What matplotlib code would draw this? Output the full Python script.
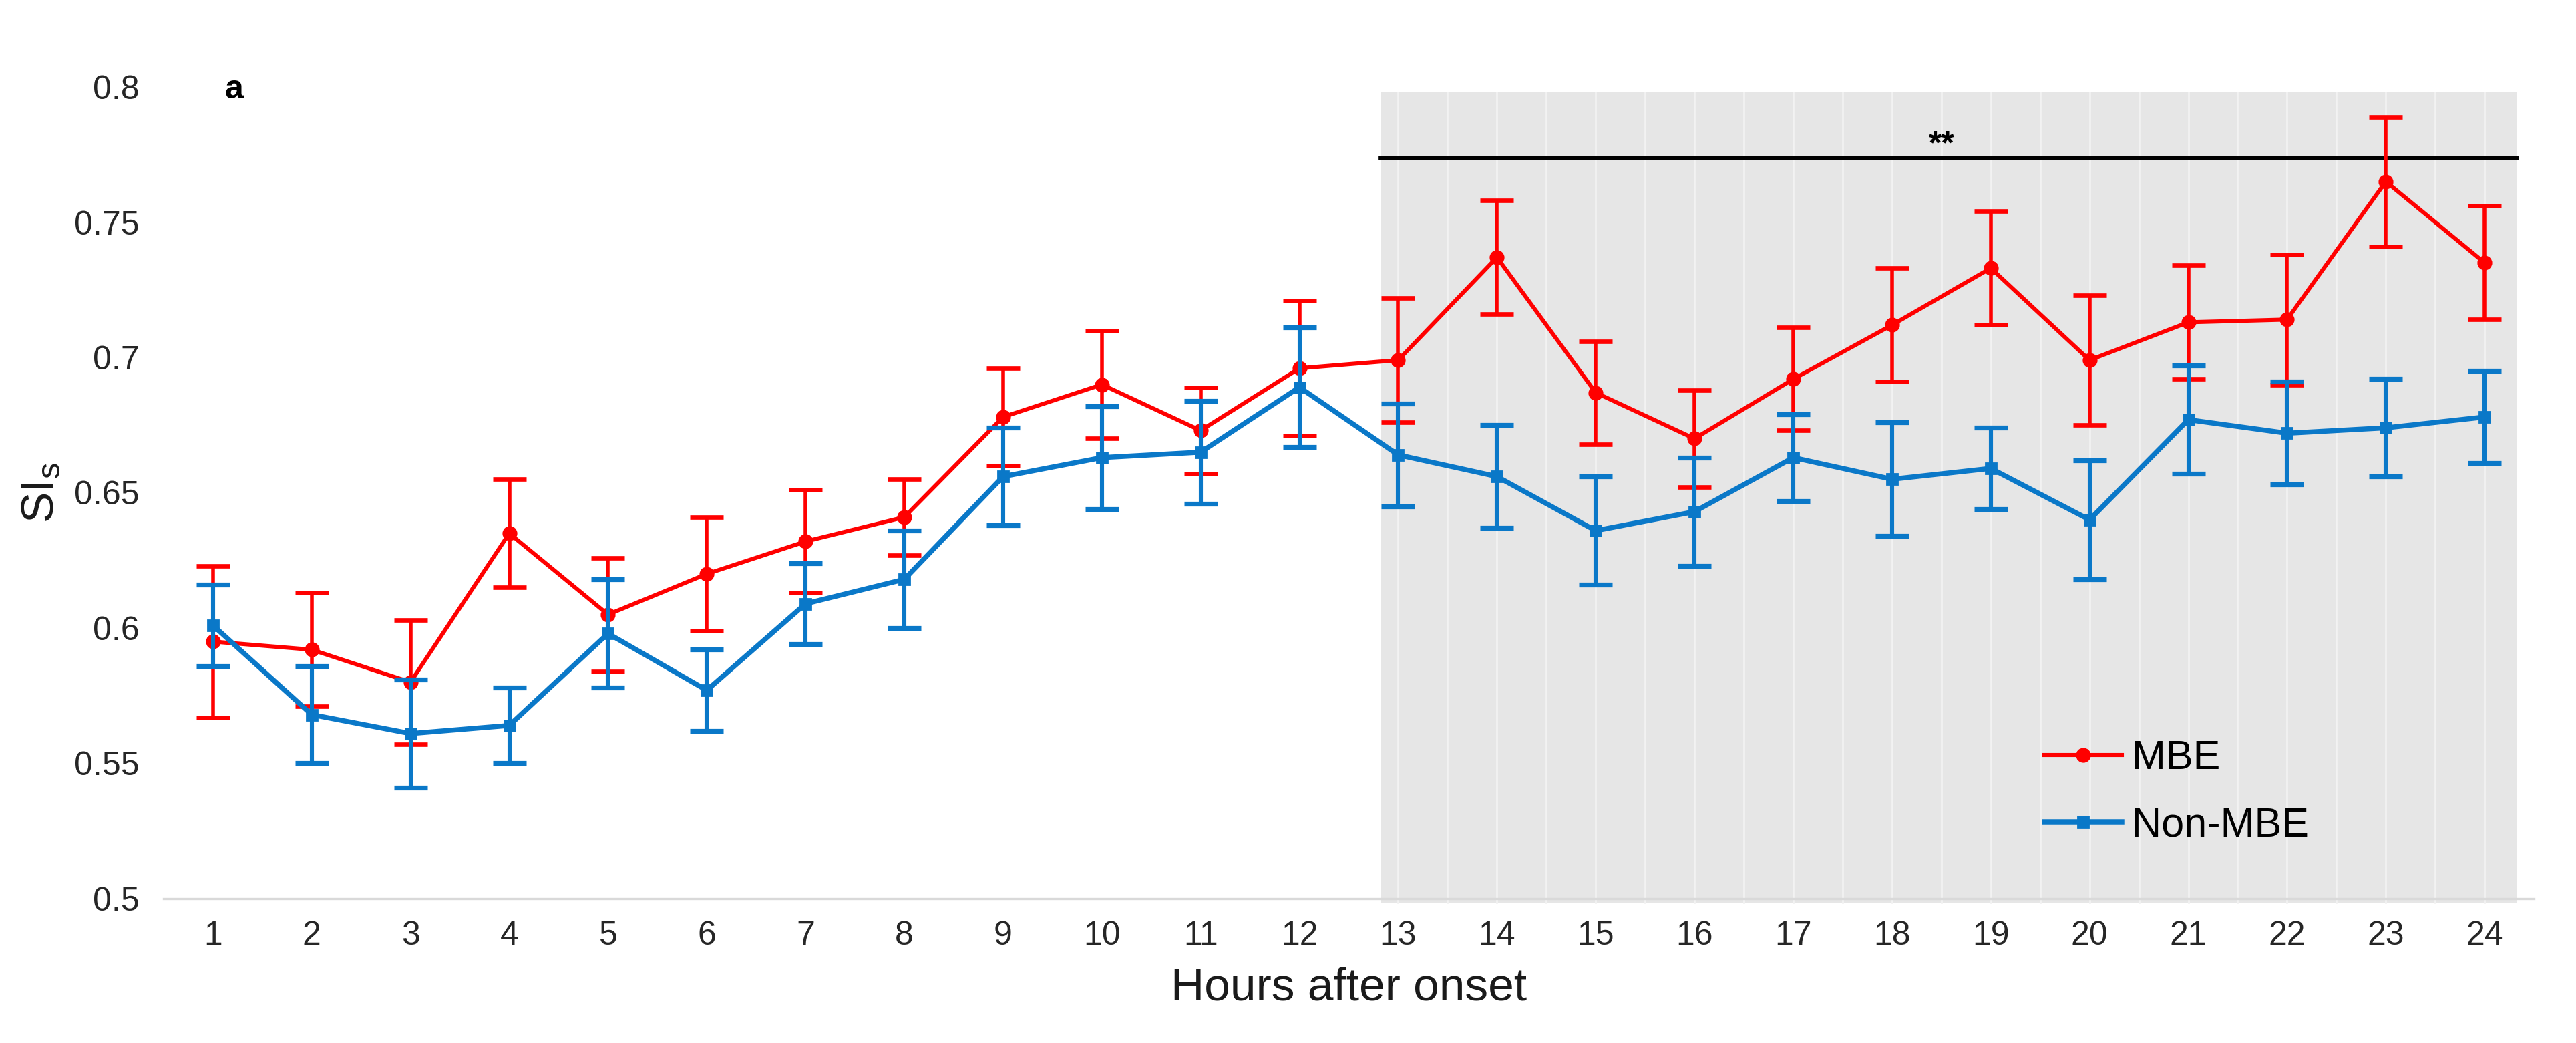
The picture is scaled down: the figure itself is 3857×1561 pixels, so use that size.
import numpy as np
import matplotlib
matplotlib.use('Agg')
import matplotlib.pyplot as plt
from matplotlib import font_manager

# hours after onset and SI_s values (mean +/- error)
hours = list(range(1, 25))
mbe = [0.595, 0.592, 0.580, 0.635, 0.605, 0.620, 0.632, 0.641, 0.678, 0.690, 0.673, 0.696,
       0.699, 0.737, 0.687, 0.670, 0.692, 0.712, 0.733, 0.699, 0.713, 0.714, 0.765, 0.735]
mbe_err = [0.028, 0.021, 0.023, 0.020, 0.021, 0.021, 0.019, 0.014, 0.018, 0.020, 0.016, 0.025,
           0.023, 0.021, 0.019, 0.018, 0.019, 0.021, 0.021, 0.024, 0.021, 0.024, 0.024, 0.021]
non_mbe = [0.601, 0.568, 0.561, 0.564, 0.598, 0.577, 0.609, 0.618, 0.656, 0.663, 0.665, 0.689,
           0.664, 0.656, 0.636, 0.643, 0.663, 0.655, 0.659, 0.640, 0.677, 0.672, 0.674, 0.678]
non_mbe_err = [0.015, 0.018, 0.020, 0.014, 0.020, 0.015, 0.015, 0.018, 0.018, 0.019, 0.019, 0.022,
               0.019, 0.019, 0.020, 0.020, 0.016, 0.021, 0.015, 0.022, 0.020, 0.019, 0.018, 0.017]
yticks = [0.5, 0.55, 0.6, 0.65, 0.7, 0.75, 0.8]
ytick_labels = ['0.5', '0.55', '0.6', '0.65', '0.7', '0.75', '0.8']

names = {f.name for f in font_manager.fontManager.ttflist}
fam = 'Liberation Sans Narrow' if 'Liberation Sans Narrow' in names else 'Liberation Sans'
plt.rcParams['font.family'] = [fam, 'DejaVu Sans']
plt.rcParams['mathtext.fontset'] = 'custom'
plt.rcParams['mathtext.rm'] = fam
plt.rcParams['mathtext.it'] = fam

RED = '#FF0000'
BLUE = '#0A78C8'

fig = plt.figure(figsize=(19.285, 7.805), dpi=200)
ax = fig.add_axes([0.0635, 0.1384, 0.9202, 0.7783])

# shaded significance window
ax.fill_between([12.82, 24.32], 0.4985, 0.798, color='#E6E6E6', zorder=0, lw=0, clip_on=False)
for g in np.arange(13, 24.01, 0.5):
    ax.plot([g, g], [0.4985, 0.798], color='#F2F2F2', lw=1.0, zorder=0.5, clip_on=False)
ax.plot([12.82, 24.32], [0.7738, 0.7738], color='black', lw=2.4, zorder=1)
ax.text(18.5, 0.7785, '**', ha='center', va='center', fontsize=18, fontweight='bold')
ax.text(1.12, 0.799, 'a', ha='left', va='center', fontsize=18, fontweight='bold')

ax.errorbar(hours, mbe, yerr=mbe_err, color=RED, lw=2.2, marker='o', ms=7,
            capsize=9, capthick=2.4, elinewidth=2.0, label='MBE', zorder=3)
ax.errorbar(hours, non_mbe, yerr=non_mbe_err, color=BLUE, lw=2.7, marker='s', ms=6,
            capsize=9, capthick=2.6, elinewidth=2.2, label='Non-MBE', zorder=4)

ax.set_xlim(0.5, 24.5)
ax.set_ylim(0.5, 0.8)
ax.set_xticks(hours)
ax.set_xticklabels([str(h) for h in hours])
ax.set_yticks(yticks)
ax.set_yticklabels(ytick_labels)
ax.tick_params(axis='both', length=0, labelsize=18, colors='#262626')
ax.tick_params(axis='x', pad=12)
ax.tick_params(axis='y', pad=13)

for s in ['top', 'right', 'left']:
    ax.spines[s].set_visible(False)
ax.spines['bottom'].set_color('#D9D9D9')
ax.spines['bottom'].set_linewidth(1.2)

ax.set_xlabel('Hours after onset', fontsize=25, labelpad=8, color='#1a1a1a')
ax.set_ylabel(r'SI$_{\mathrm{s}}$', fontsize=25, labelpad=6, color='#1a1a1a')

handles, labels = ax.get_legend_handles_labels()
handles = [h[0] for h in handles]
ax.legend(handles, labels, loc='center left', bbox_to_anchor=(0.7934, 0.131), frameon=False,
          fontsize=22, borderpad=0, borderaxespad=0, handlelength=1.9, handletextpad=0.25,
          labelspacing=0.7)

fig.savefig('out.png', dpi=200)
